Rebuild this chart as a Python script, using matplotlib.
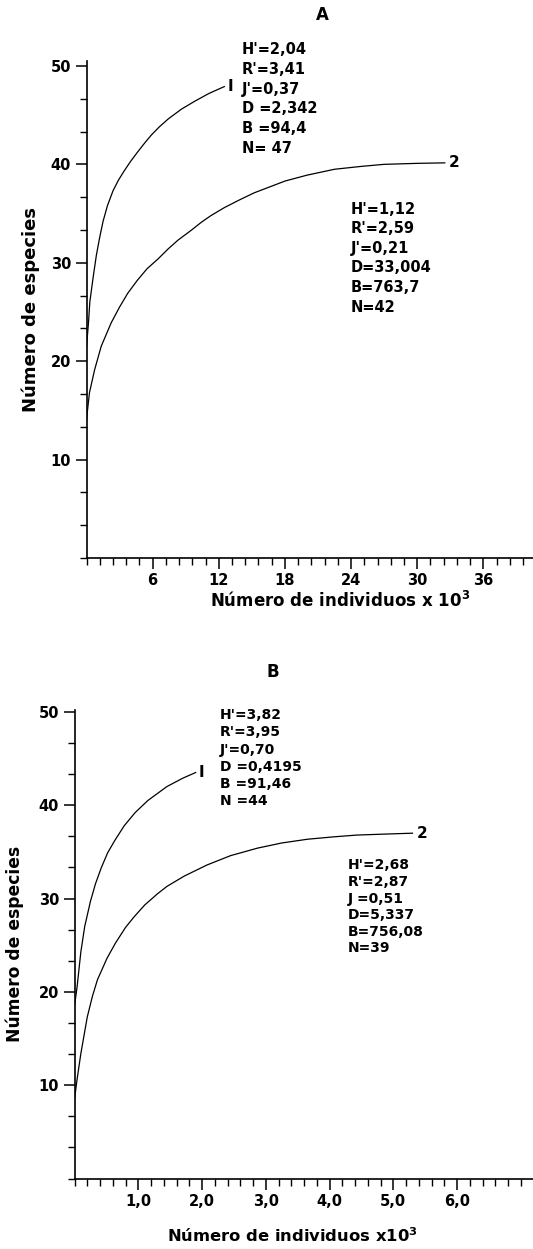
import matplotlib
matplotlib.use("Agg")
import matplotlib.pyplot as plt
from matplotlib.ticker import MultipleLocator, FixedLocator, FixedFormatter

plt.rcParams['font.family'] = ['DejaVu Sans']
plt.rcParams['font.weight'] = 'bold'
plt.rcParams['axes.labelweight'] = 'bold'

# Panel A: species vs individuals (x 10^3)
a1_x = [0.0, 0.18, 0.3, 0.6, 0.9, 1.2, 1.5, 1.9, 2.4, 2.9, 3.4, 4.0, 4.6, 5.3, 5.9, 6.6,
        7.4, 8.6, 9.8, 11.1, 12.5]
a1_y = [21.5, 23.9, 26.0, 28.5, 30.8, 32.6, 34.2, 35.8, 37.3, 38.4, 39.3, 40.3, 41.2, 42.2,
        43.0, 43.8, 44.6, 45.6, 46.4, 47.2, 47.9]
a2_x = [0.0, 0.06, 0.27, 0.73, 1.33, 2.24, 3.0, 3.74, 4.6, 5.5, 6.5, 7.4, 8.3, 9.5, 10.4,
        11.3, 12.5, 13.9, 15.2, 16.6, 18.0, 20.0, 22.5, 25.0, 27.0, 30.0, 32.5]
a2_y = [14.0, 14.7, 16.8, 19.1, 21.5, 23.9, 25.5, 26.9, 28.2, 29.4, 30.4, 31.4, 32.3, 33.3,
        34.1, 34.8, 35.6, 36.4, 37.1, 37.7, 38.3, 38.9, 39.5, 39.8, 40.0, 40.1, 40.15]
a_xticks = [6, 12, 18, 24, 30, 36]
a_stats1 = ["H'=2,04", "R'=3,41", "J'=0,37", "D =2,342", "B =94,4", "N= 47"]
a_stats2 = ["H'=1,12", "R'=2,59", "J'=0,21", "D=33,004", "B=763,7", "N=42"]

# Panel B
b1_x = [0.0, 0.04, 0.10, 0.16, 0.25, 0.33, 0.42, 0.52, 0.63, 0.78, 0.95, 1.15, 1.45, 1.7, 1.9]
b1_y = [18.5, 20.5, 24.3, 27.0, 29.7, 31.6, 33.3, 34.9, 36.2, 37.8, 39.2, 40.5, 42.0, 42.9, 43.5]
b2_x = [0.0, 0.04, 0.10, 0.20, 0.28, 0.36, 0.51, 0.64, 0.80, 0.93, 1.1, 1.3, 1.45, 1.72,
        2.08, 2.45, 2.87, 3.25, 3.65, 4.05, 4.43, 4.85, 5.3]
b2_y = [8.5, 10.6, 13.4, 17.3, 19.5, 21.3, 23.6, 25.2, 26.9, 28.0, 29.3, 30.5, 31.3, 32.4,
        33.6, 34.6, 35.4, 35.95, 36.35, 36.6, 36.8, 36.9, 37.0]
b_xticks = [1, 2, 3, 4, 5, 6]
b_xlabels = ["1,0", "2,0", "3,0", "4,0", "5,0", "6,0"]
b_stats1 = ["H'=3,82", "R'=3,95", "J'=0,70", "D =0,4195", "B =91,46", "N =44"]
b_stats2 = ["H'=2,68", "R'=2,87", "J =0,51", "D=5,337", "B=756,08", "N=39"]

W, H = 533, 1249
fig = plt.figure(figsize=(W / 100, H / 100), dpi=100)

def px_axes(left, right, bottom, top):
    return fig.add_axes([left / W, 1 - bottom / H, (right - left) / W, (bottom - top) / H])

def style(ax, xmajor, xminor, xlabels):
    for s in ('top', 'right'):
        ax.spines[s].set_visible(False)
    for s in ('left', 'bottom'):
        ax.spines[s].set_linewidth(1.2)
    ax.yaxis.set_major_locator(FixedLocator([10, 20, 30, 40, 50]))
    ax.yaxis.set_minor_locator(MultipleLocator(10 / 3))
    ax.xaxis.set_major_locator(FixedLocator(xmajor))
    ax.xaxis.set_major_formatter(FixedFormatter(xlabels))
    ax.xaxis.set_minor_locator(MultipleLocator(xminor))
    ax.tick_params(which='major', length=8, width=1.1, labelsize=10.5, pad=3)
    ax.tick_params(which='minor', length=5, width=1.0)

lw = 0.9

# ---- A ----
axA = px_axes(86.5, 533, 558, 61)
axA.plot(a1_x, a1_y, color='black', lw=lw)
axA.plot(a2_x, a2_y, color='black', lw=lw)
axA.set_xlim(0, 40.5)
axA.set_ylim(0, 50.5)
style(axA, a_xticks, 1.2, [str(t) for t in a_xticks])
axA.set_ylabel("Número de especies", fontsize=13)
axA.yaxis.set_label_coords(-0.104, 0.5)
axA.set_xlabel("Número de individuos x 10$^3$", fontsize=12)
axA.xaxis.set_label_coords(0.567, -0.066)
axA.text(a1_x[-1] + 0.3, a1_y[-1], "I", fontsize=11, va='center', ha='left')
axA.text(a2_x[-1] + 0.4, a2_y[-1], "2", fontsize=11, va='center', ha='left')
axA.text(14.1, 52.4, "\n".join(a_stats1), fontsize=10.5, va='top', ha='left', linespacing=1.39)
axA.text(24.0, 36.2, "\n".join(a_stats2), fontsize=10.5, va='top', ha='left', linespacing=1.38)
fig.text(322 / W, 1 - 15 / H, "A", fontsize=12, ha='center', va='center')

# ---- B ----
axB = px_axes(74.5, 533, 1178.5, 710)
axB.plot(b1_x, b1_y, color='black', lw=lw)
axB.plot(b2_x, b2_y, color='black', lw=lw)
axB.set_xlim(0, 7.19)
axB.set_ylim(0, 50.2)
style(axB, b_xticks, 0.2, b_xlabels)
axB.set_ylabel("Número de especies", fontsize=12.3)
axB.yaxis.set_label_coords(-0.11, 0.5)
axB.set_xlabel("Número de individuos x10$^3$", fontsize=11.8)
axB.xaxis.set_label_coords(0.474, -0.102)
axB.text(b1_x[-1] + 0.04, b1_y[-1], "I", fontsize=11, va='center', ha='left')
axB.text(b2_x[-1] + 0.07, b2_y[-1], "2", fontsize=11, va='center', ha='left')
axB.text(2.28, 50.4, "\n".join(b_stats1), fontsize=10, va='top', ha='left', linespacing=1.29)
axB.text(4.29, 34.3, "\n".join(b_stats2), fontsize=10, va='top', ha='left', linespacing=1.235)
fig.text(273 / W, 1 - 672 / H, "B", fontsize=12, ha='center', va='center')

fig.savefig("out.png", dpi=100)
